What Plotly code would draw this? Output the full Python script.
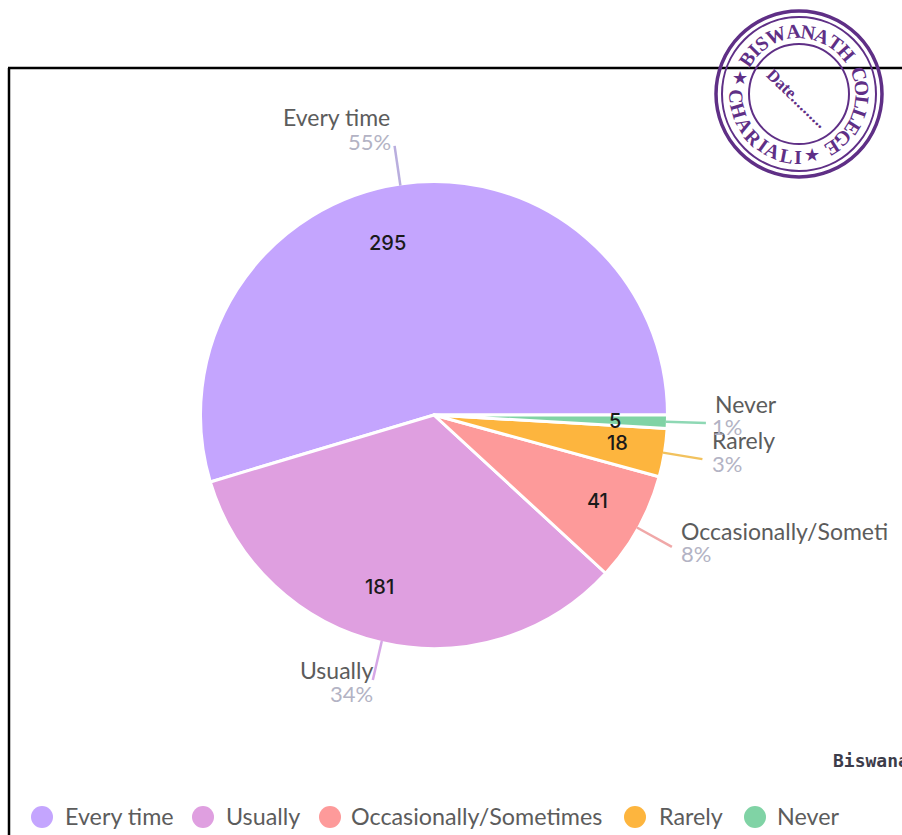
import math
import plotly.graph_objects as go

W, H = 902, 835

# ---- data ----
categories = ["Every time", "Usually", "Occasionally/Sometimes", "Rarely", "Never"]
values = [295, 181, 41, 18, 5]
percent_labels = ["55%", "34%", "8%", "3%", "1%"]
callout_names = ["Every time", "Usually", "Occasionally/Someti", "Rarely", "Never"]
stamp_top = "BISWANATH"
stamp_right = "COLLEGE"
stamp_left = "CHARIALI"

# ---- style / layout ----
colors = ["#c4a5fe", "#df9fe0", "#fd9a9a", "#fdb53e", "#80d3a5"]
leader_colors = ["#b9aede", "#d5a6e6", "#f0a8a8", "#f2c25e", "#8ed8b4"]
CX, CY, R = 434, 415, 232
FONT = "Lato"
NAME_C, PCT_C = "#5c5c5c", "#b3b3c4"
STAMP = "#5f2f86"
# callout label offsets from the leader end: (anchor, dx, name dy, pct dx, pct dy)
callout = [("right", -5, -29, -4, -4), ("right", 0, -10, 0, 13), ("left", 9, -16, 9, 7),
           ("left", 10, -19, 10, 4), ("left", 9, -19, 6, 4)]
num_nudge = [(-20, 7), (-14, -4), (5, -2), (5, -1), (0, 1)]
legend_dot_x = [42, 203, 330, 635, 755]
legend_text_x = [65, 226, 351, 659, 777]
LEG_Y = 817
letter_w = {"I": 0.55, "W": 1.35, "M": 1.3, "S": 0.85, "L": 0.9, "E": 0.9, "C": 1.0}


def px(x): return x / W
def py(y): return 1 - y / H


annotations, shapes = [], []


def text(x, y, s, size, color, anchor="center", family=FONT, angle=0, weight=None):
    f = dict(family=family, size=size, color=color)
    if weight:
        f["weight"] = weight
    annotations.append(dict(x=px(x), y=py(y), xref="paper", yref="paper", text=s, showarrow=False,
                            xanchor=anchor, yanchor="middle", font=f, textangle=angle,
                            borderpad=0, borderwidth=0))


def line(x0, y0, x1, y1, color, width):
    shapes.append(dict(type="line", xref="paper", yref="paper", x0=px(x0), y0=py(y0), x1=px(x1), y1=py(y1),
                       line=dict(color=color, width=width), layer="above"))


def circle(x, y, r, fill=None, stroke=None, width=0):
    shapes.append(dict(type="circle", xref="paper", yref="paper", x0=px(x - r), x1=px(x + r),
                       y0=py(y + r), y1=py(y - r), fillcolor=fill or "rgba(0,0,0,0)",
                       line=dict(color=stroke or "rgba(0,0,0,0)", width=width), layer="above"))


# frame
line(8, 68, 902, 68, "#000000", 2.5)
line(9, 68, 9, 835, "#000000", 2.5)

# callouts and value labels derived from the slice mid-angles
total = sum(values)
acc = 0
for i, v in enumerate(values):
    mid = math.radians((acc + v / 2) / total * 360)
    acc += v
    c, s = math.cos(mid), math.sin(mid)
    x0, y0 = CX + R * c, CY - R * s
    x1, y1 = CX + 272 * c, CY - 272 * s
    line(x0, y0, x1, y1, leader_colors[i], 2.5)
    anc, dx, dy, pdx, pdy = callout[i]
    text(x1 + pdx, y1 + pdy, percent_labels[i], 22, PCT_C, anc)
    text(x1 + dx, y1 + dy, callout_names[i], 23, NAME_C, anc)
    nx, ny = num_nudge[i]
    text(CX + 0.78 * R * c + nx, CY - 0.78 * R * s + ny, str(v), 20, "#1a1a1a", family="Inter", weight=500)

# legend
for i, name in enumerate(categories):
    circle(legend_dot_x[i], LEG_Y, 11, fill=colors[i])
    text(legend_text_x[i], LEG_Y - 1, name, 23.3, NAME_C, "left")

# watermark
text(833, 760, "Biswanath", 18, "#3c3c4a", "left", family="DejaVu Sans Mono", weight=700)

# stamp
SX, SY = 799, 94
circle(SX, SY, 83, stroke=STAMP, width=3.5)
circle(SX, SY, 77, stroke=STAMP, width=2)
circle(SX, SY, 50, stroke=STAMP, width=2)


def ring_text(s, a0, a1, outward_top=True):
    w = [letter_w.get(ch, 1.0) for ch in s]
    steps = [(w[k] + w[k + 1]) / 2 for k in range(len(s) - 1)]
    span = sum(steps)
    pos = 0.0
    for k, ch in enumerate(s):
        a = a0 + (a1 - a0) * pos / span
        if k < len(steps):
            pos += steps[k]
        ra = math.radians(a)
        x, y = SX + 63 * math.cos(ra), SY - 63 * math.sin(ra)
        rot = 90 - a if outward_top else 270 - a
        text(x, y, ch, 20, STAMP, family="Liberation Serif", angle=rot, weight=700)


ring_text(stamp_top, 146, 41)
ring_text(stamp_right, 19, -58)
ring_text(stamp_left, 182, 269, outward_top=False)
text(740, 77, "★", 18, STAMP)
text(812, 154, "★", 18, STAMP)
text(797, 98, "Date..........", 17, STAMP, family="Liberation Serif", angle=44, weight=700)

PIE_R = R + 1.5
fig = go.Figure(go.Pie(
    labels=categories, values=values, marker=dict(colors=colors, line=dict(color="#ffffff", width=3)),
    sort=False, direction="counterclockwise", rotation=90 - values[0] / total * 360,
    textinfo="none", hoverinfo="label+value+percent", showlegend=False,
    domain=dict(x=[px(CX - PIE_R), px(CX + PIE_R)], y=[py(CY + PIE_R), py(CY - PIE_R)]),
))
fig.update_layout(width=W, height=H, margin=dict(l=0, r=0, t=0, b=0), paper_bgcolor="#ffffff",
                  showlegend=False, annotations=annotations, shapes=shapes)
fig.write_html("out.html", config=dict(displayModeBar=False),
               post_script="document.body.style.margin='0';document.body.style.overflow='hidden';")
